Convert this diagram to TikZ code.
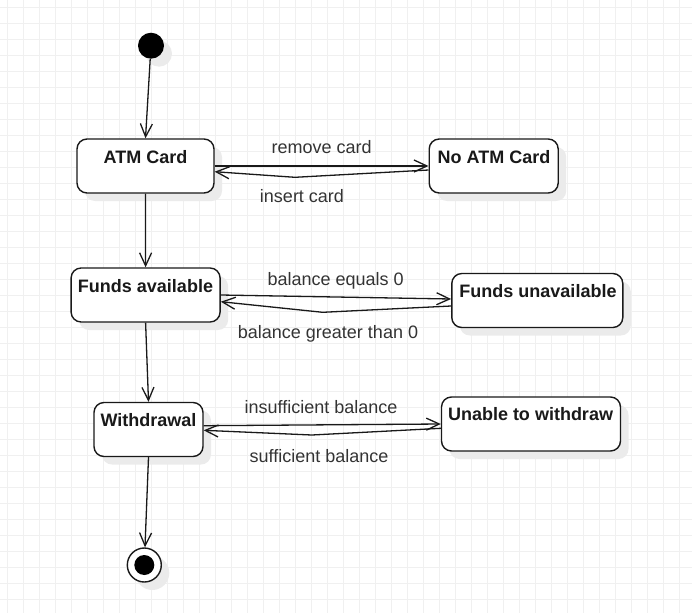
\documentclass[tikz,border=0pt]{standalone}
\usepackage{fontspec}
\setmainfont{Liberation Sans}
\usetikzlibrary{arrows.meta,shadows,calc}
\begin{document}
\begin{tikzpicture}[x=1pt,y=-1pt,
  shd/.style={drop shadow={shadow xshift=8pt,shadow yshift=-8pt,fill=black!8,opacity=1}},
  state/.style={draw=black!90, line width=1.4pt, rounded corners=10pt, fill=white, shd, inner sep=0pt},
  stname/.style={font=\bfseries\fontsize{18}{21}\selectfont, text=black!90, inner sep=0pt, text height=13pt, text depth=0pt},
  elabel/.style={font=\fontsize{18}{21}\selectfont, text=black!80, inner sep=0pt, text height=13pt, text depth=0pt},
  tr/.style={draw=black!90, line width=1.3pt, -{Straight Barb[length=13pt,width=12pt,line width=1.3pt]}},
  gridline/.style={draw=black!6, line width=1pt}
]
\useasboundingbox (0,0) rectangle (692,613);
\begin{scope}
\clip (0,0) rectangle (692,613);
\foreach \g in {0,...,43} {
  \draw[gridline] (7+16*\g,0) -- (7+16*\g,613);
  \draw[gridline] (0,7+16*\g) -- (692,7+16*\g);
}
\end{scope}

% states
\node[state, minimum width=137pt, minimum height=54pt] (atm) at (145.5,166) {};
\node[stname] (atmt) at (145.5,157) {ATM Card};
\node[state, minimum width=129pt, minimum height=54pt] (noatm) at (493.7,166) {};
\node[stname] (noatmt) at (494,157) {No ATM Card};
\node[state, minimum width=149pt, minimum height=54pt] (fa) at (145.6,295) {};
\node[stname] (fat) at (145.5,286) {Funds available};
\node[state, minimum width=171pt, minimum height=54pt] (fu) at (537.3,300.5) {};
\node[stname] (fut) at (538,291) {Funds unavailable};
\node[state, minimum width=109pt, minimum height=54pt] (wd) at (148.5,429.5) {};
\node[stname] (wdt) at (148.5,420) {Withdrawal};
\node[state, minimum width=179pt, minimum height=54pt] (uw) at (531,424) {};
\node[stname] (uwt) at (530.5,414) {Unable to withdraw};

% initial and final
\node[circle, fill=black, minimum size=26pt, inner sep=0pt, shd] (init) at (151,45.7) {};
\node[circle, draw=black!90, line width=1.4pt, fill=white, minimum size=34pt, inner sep=0pt, shd] (final) at (144.3,565) {};
\node[circle, fill=black, minimum size=20pt, inner sep=0pt] (finalin) at (final) {};

% bend points
\coordinate (b1) at (295,177.3);
\coordinate (b2) at (322.7,312.3);
\coordinate (b3) at (311.9,435);

% vertical transitions
\draw[tr] (init) -- (atm.north);
\draw[tr] (atm.south) -- (fa.north);
\draw[tr] (fa.south) -- (wd.north);
\draw[tr] (wd.south) -- (final);

% horizontal transitions
\draw[tr] (atm.east) -- (noatm.west);
\draw[tr] ([yshift=-4pt]noatm.west) -- (b1) -- ([yshift=-5.7pt]atm.east);
\draw[tr] (fa.east) -- ([yshift=1.5pt]fu.west);
\draw[tr] ([yshift=-5.5pt]fu.west) -- (b2) -- ([yshift=-6.7pt]fa.east);
\draw[tr] ([yshift=3.8pt]wd.east) -- (uw.west);
\draw[tr] ([yshift=-4.3pt]uw.west) -- (b3) -- ([yshift=-0.8pt]wd.east);

% labels
\node[elabel] (l1) at (321.7,147.3) {remove card};
\node[elabel] (l2) at (302,195.7) {insert card};
\node[elabel] (l3) at (335.6,279.3) {balance equals 0};
\node[elabel] (l4) at (328,332) {balance greater than 0};
\node[elabel] (l5) at (321,406.7) {insufficient balance};
\node[elabel] (l6) at (319,455.7) {sufficient balance};
\end{tikzpicture}
\end{document}
